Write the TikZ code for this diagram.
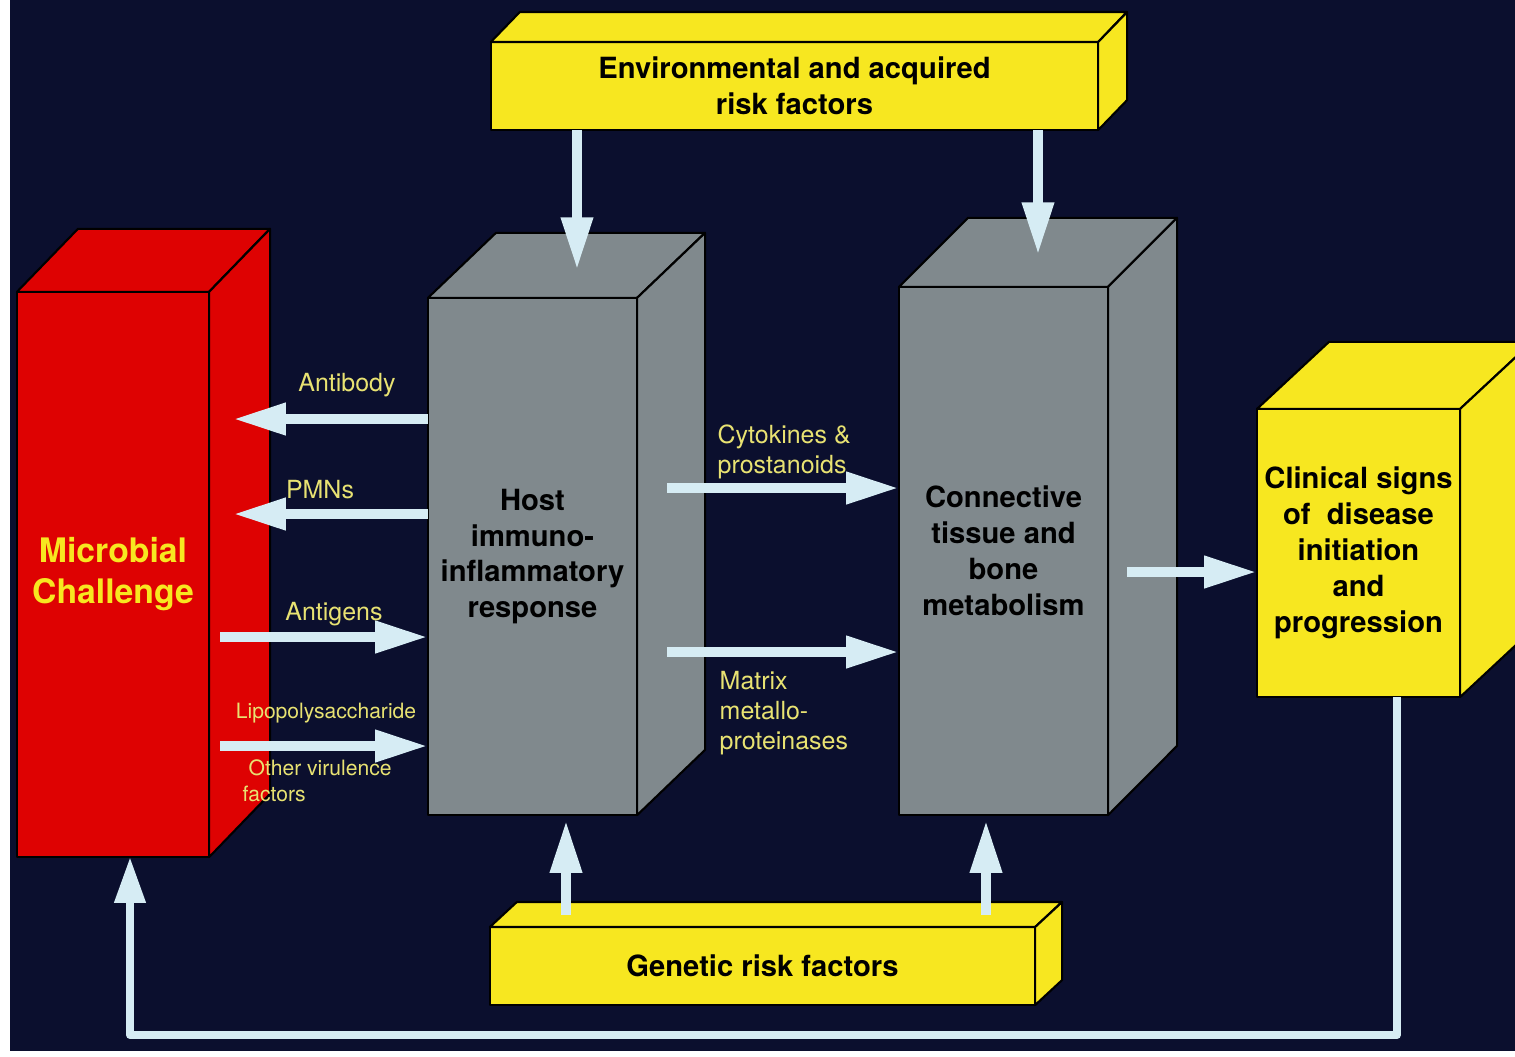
\documentclass[tikz,border=0pt]{standalone}
\usepackage{fontspec}
\setmainfont{TeX Gyre Heros}
\usetikzlibrary{arrows.meta,positioning}
\definecolor{PNavy}{RGB}{11,15,46}
\definecolor{PRed}{RGB}{222,2,2}
\definecolor{PGrey}{RGB}{128,137,141}
\definecolor{PYellow}{RGB}{247,231,32}
\definecolor{PArrow}{RGB}{214,236,244}
\definecolor{PLabel}{RGB}{232,226,114}

\begin{document}
\begin{tikzpicture}[x=0.01cm,y=-0.01cm,line join=round,
  edge/.style={draw=black,line width=0.6pt},
  face/.style={edge,inner sep=0pt,outer sep=0pt,align=center,font=\fontsize{8.3}{10.2}\selectfont\bfseries},
  flow/.style={draw=PArrow,line width=2.9pt,-{Triangle[length=15pt,width=8.5pt]}},
  loopback/.style={draw=PArrow,line width=2.2pt,-{Triangle[length=13pt,width=8.5pt]}},
  lbl/.style={text=PLabel,font=\fontsize{7.1}{8.5}\selectfont,inner sep=0pt,align=left},
  small/.style={text=PLabel,font=\fontsize{6}{7.4}\selectfont,inner sep=0pt,align=left}]
\useasboundingbox (0,0) rectangle (1515,1056);
\fill[white] (0,0) rectangle (1515,1056);
\fill[PNavy] (10,0) rectangle (1515,1051);

% boxes: front face is the node, top and side drawn from its corners
\node[face,fill=PRed,text=PYellow,minimum width=1.92cm,minimum height=5.65cm,
  font=\fontsize{9.6}{11.7}\selectfont\bfseries] (mc) at (113,574.5) {Microbial\\Challenge};
\fill[PRed,edge] (mc.north west) -- ++(61,-63) -- ++(192,0) -- (mc.north east) -- cycle;
\fill[PRed,edge] (mc.north east) -- ++(61,-63) -- ++(0,565) -- (mc.south east) -- cycle;

\node[face,fill=PGrey,minimum width=2.09cm,minimum height=5.17cm] (host) at (532.5,556.5)
  {Host\\immuno-\\inflammatory\\response};
\fill[PGrey,edge] (host.north west) -- ++(68,-65) -- ++(209,0) -- (host.north east) -- cycle;
\fill[PGrey,edge] (host.north east) -- ++(68,-65) -- ++(0,517) -- (host.south east) -- cycle;

\node[face,fill=PGrey,minimum width=2.09cm,minimum height=5.28cm] (ctb) at (1003.5,551)
  {Connective\\tissue and\\bone\\metabolism};
\fill[PGrey,edge] (ctb.north west) -- ++(69,-69) -- ++(209,0) -- (ctb.north east) -- cycle;
\fill[PGrey,edge] (ctb.north east) -- ++(69,-69) -- ++(0,528) -- (ctb.south east) -- cycle;

\node[face,fill=PYellow,minimum width=2.03cm,minimum height=2.88cm] (clin) at (1358.5,553)
  {Clinical signs\\of\ \ disease\\initiation\\and\\progression};
\fill[PYellow,edge] (clin.north west) -- ++(72,-67) -- ++(203,0) -- (clin.north east) -- cycle;
\fill[PYellow,edge] (clin.north east) -- ++(72,-67) -- ++(0,288) -- (clin.south east) -- cycle;

\node[face,fill=PYellow,minimum width=6.07cm,minimum height=0.88cm] (env) at (794.5,86)
  {Environmental and acquired\\risk factors};
\fill[PYellow,edge] (env.north west) -- ++(29,-30) -- ++(607,0) -- (env.north east) -- cycle;
\fill[PYellow,edge] (env.north east) -- ++(29,-30) -- ++(0,88) -- (env.south east) -- cycle;

\node[face,fill=PYellow,minimum width=5.45cm,minimum height=0.78cm] (gen) at (762.5,966)
  {Genetic risk factors};
\fill[PYellow,edge] (gen.north west) -- ++(27,-25) -- ++(545,0) -- (gen.north east) -- cycle;
\fill[PYellow,edge] (gen.north east) -- ++(27,-25) -- ++(0,78) -- (gen.south east) -- cycle;

% arrow ends
\coordinate (abT) at (233,419); \coordinate (pmT) at (233,514);
\coordinate (agS) at (220,637); \coordinate (lpS) at (220,746);
\coordinate (ckS) at (667,488); \coordinate (mmS) at (667,652);
\coordinate (clS) at (1127,572);
\coordinate (eH) at (577,270); \coordinate (eC) at (1038,255);
\coordinate (gH) at (566,915); \coordinate (gC) at (986,915);
\coordinate (fbR) at (1397,1035); \coordinate (fbL) at (130,1035);

\draw[flow] (host.west |- abT) -- (abT);
\draw[flow] (host.west |- pmT) -- (pmT);
\draw[flow] (agS) -- (host.west |- agS);
\draw[flow] (lpS) -- (host.west |- lpS);
\draw[flow] (ckS) -- (ctb.west |- ckS);
\draw[flow] (mmS) -- (ctb.west |- mmS);
\draw[flow] (clS) -- (clin.west |- clS);
\draw[flow] (env.south -| eH) -- (eH);
\draw[flow] (env.south -| eC) -- (eC);
\draw[flow] (gH) -- ([yshift=-0.05cm]host.south -| gH);
\draw[flow] (gC) -- ([yshift=-0.05cm]ctb.south -| gC);
\draw[loopback] (clin.south -| fbR) -- (fbR) -- (fbL) -- (mc.south -| fbL);

% labels on the arrows
\node[lbl] (tAb) at (347,385) {Antibody};
\node[lbl] (tPmn) at (320,490) {PMNs};
\node[lbl] (tAg) at (334,614) {Antigens};
\node[small] (tLps) at (326,713) {Lipopolysaccharide};
\node[small,anchor=west] (tVir) at (242,781) {\hspace*{1.7pt}Other virulence\\factors};
\node[lbl,anchor=west] (tCk) at (717,452) {Cytokines \&\\prostanoids};
\node[lbl,anchor=west] (tMm) at (719,713) {Matrix\\metallo-\\proteinases};
\end{tikzpicture}
\end{document}
